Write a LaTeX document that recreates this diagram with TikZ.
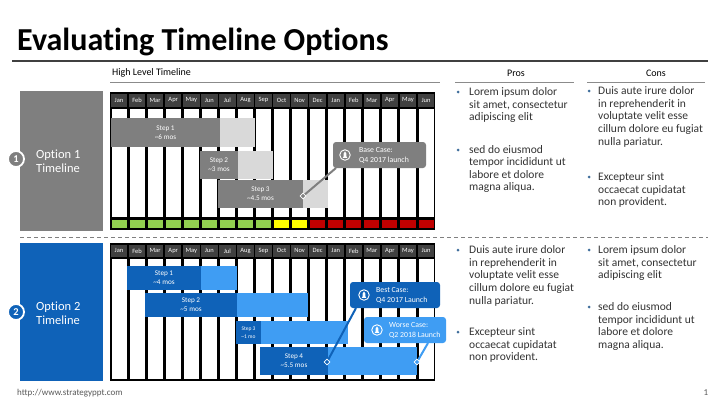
\documentclass[tikz,border=0pt]{standalone}
\usepackage{fontspec}
\setmainfont{Carlito}[Ligatures=NoCommon]
\usetikzlibrary{positioning, calc, shapes.geometric}
\definecolor{optgray}{HTML}{7F7F7F}
\definecolor{barlight}{HTML}{D9D9D9}
\definecolor{headgray}{HTML}{404040}
\definecolor{rulegray}{HTML}{595959}
\definecolor{optblue}{HTML}{0F62B8}
\definecolor{skyblue}{HTML}{3F9DF3}
\definecolor{statusgreen}{HTML}{92D050}
\definecolor{statusyellow}{HTML}{FFFF00}
\definecolor{statusred}{HTML}{C00000}
\definecolor{bodytext}{HTML}{333333}
\definecolor{dotblue}{HTML}{3F6E9C}

\begin{document}
\begin{tikzpicture}[x=1pt, y=-1pt,
  panel/.style={rectangle, anchor=north west, inner sep=0, outer sep=0},
  numdisc/.style={circle, draw=white, line width=1.8pt, minimum size=16pt, inner sep=0,
    text=white, font=\bfseries\fontsize{10.5}{10.5}\selectfont},
  opttext/.style={anchor=west, align=left, text=white, inner sep=0, font=\fontsize{12.5}{14}\selectfont},
  heading/.style={inner sep=0, text=black, font=\fontsize{10}{12}\selectfont},
  month/.style={inner sep=0, text=white, font=\fontsize{6.5}{7}\selectfont},
  stepbar/.style={rectangle, anchor=north west, inner sep=0, outer sep=0, align=center,
    text=white, font=\fontsize{7.2}{8.8}\selectfont},
  callout/.style={rectangle, rounded corners=3pt, anchor=north west, inner sep=0, outer sep=0},
  callouttext/.style={anchor=west, inner sep=0, align=left, text=white, font=\fontsize{7.8}{9.8}\selectfont},
  badge/.style={circle, draw=white, line width=0.9pt, minimum size=10.5pt, inner sep=0},
  tipmark/.style={diamond, draw=white, line width=0.8pt, minimum size=6pt, inner sep=0},
  pointer/.style={line width=2pt},
  item/.style={anchor=north west, inner sep=0, align=left, text=bodytext, font=\fontsize{11.5}{12.6}\selectfont},
  dot/.style={circle, fill=dotblue, minimum size=3pt, inner sep=0}
]
  \useasboundingbox (0,0) rectangle (720,405);
  \fill[white] (0,0) rectangle (720,405);

  % title
  \node[anchor=base west, inner sep=0, font=\bfseries\fontsize{32}{36}\selectfont] (title) at (17,50) {Evaluating Timeline Options};
  \draw[headgray, line width=1.4pt] (12,61) -- (708,61);

  \node[heading, anchor=west] (hlt) at (112,73) {High Level Timeline};
  \node[heading] (pros) at (516,73) {Pros};
  \node[heading] (cons) at (656,73) {Cons};
  \draw[rulegray!70, line width=0.6pt] (110,82) -- (440,82);
  \draw[rulegray!70, line width=0.6pt] (455,82) -- (574,82);
  \draw[rulegray!70, line width=0.6pt] (587,82) -- (705,82);

  % option panels
  \node[panel, fill=optgray, minimum width=83pt, minimum height=140pt] (opt1) at (20,91) {};
  \node[numdisc, fill=optgray] (num1) at (16,159) {1};
  \node[opttext] (opt1txt) at (36,161) {Option 1\\Timeline};

  \draw[gray, dashed, line width=0.6pt, dash pattern=on 4pt off 3pt] (20,237) -- (708,237);

  \node[panel, fill=optblue, minimum width=83pt, minimum height=138pt] (opt2) at (20,243) {};
  \node[numdisc, fill=optblue] (num2) at (16,312) {2};
  \node[opttext] (opt2txt) at (36,313) {Option 2\\Timeline};

  % gantt 1
  \fill[black] (110,92) rectangle (435,229.5);
  \foreach \m [count=\i from 0] in {Jan,Feb,Mar,Apr,May,Jun,Jul,Aug,Sep,Oct,Nov,Dec,Jan,Feb,Mar,Apr,May,Jun} {
    \pgfmathsetmacro{\xa}{110+\i*18.06}
    \fill[headgray] (\xa+0.8,93.5) rectangle (\xa+17.26,106.5);
    \fill[white] (\xa+1.5,108.5) rectangle (\xa+16.56,217);
    \node[month] (mon\i) at (\xa+9.03,100) {\m};
  }
  \foreach \c [count=\i from 0] in {statusgreen,statusgreen,statusgreen,statusgreen,statusgreen,statusgreen,statusgreen,statusgreen,statusgreen,statusyellow,statusyellow,statusred,statusred,statusred,statusred,statusred,statusred,statusred} {
    \pgfmathsetmacro{\xa}{110+\i*18.06}
    \fill[\c] (\xa+1.5,219.5) rectangle (\xa+16.56,228);
  }

  \fill[barlight] (220,118) rectangle (255,147);
  \node[stepbar, fill=optgray, minimum width=109pt, minimum height=29pt] (aone) at (111,118) {Step 1\\\textasciitilde6 mos};
  \fill[barlight] (238,151) rectangle (273,179);
  \node[stepbar, fill=optgray, minimum width=38pt, minimum height=28pt] (atwo) at (200,151) {Step 2\\\textasciitilde3 mos};
  \fill[barlight] (303,180) rectangle (328,208);
  \node[stepbar, fill=optgray, minimum width=85pt, minimum height=28pt] (athree) at (218,180) {Step 3\\\textasciitilde4.5 mos};

  \node[callout, fill=optgray, minimum width=93pt, minimum height=26pt] (base) at (333,142) {};
  \node[badge] (basebadge) at (345,155) {};
  \node[callouttext] (basetxt) at (359,155.5) {Base Case:\\Q4 2017 launch};
  \coordinate (basetip) at (303,196);
  \draw[pointer, optgray] ([xshift=3pt]base.south west) -- (basetip);
  \node[tipmark, fill=optgray] (basemark) at (basetip) {};

  % gantt 2
  \fill[black] (110,243) rectangle (435,381);
  \foreach \m [count=\i from 0] in {Jan,Feb,Mar,Apr,May,Jun,Jul,Aug,Sep,Oct,Nov,Dec,Jan,Feb,Mar,Apr,May,Jun} {
    \pgfmathsetmacro{\xa}{110+\i*18.06}
    \fill[headgray] (\xa+0.8,244.5) rectangle (\xa+17.26,257);
    \fill[white] (\xa+1.5,259) rectangle (\xa+16.56,379);
    \node[month] (mtw\i) at (\xa+9.03,250.8) {\m};
  }

  \fill[skyblue] (201,266) rectangle (237,290);
  \node[stepbar, fill=optblue, minimum width=74pt, minimum height=24pt] (bone) at (127,266) {Step 1\\\textasciitilde4 mos};
  \fill[skyblue] (237,293) rectangle (308,317);
  \node[stepbar, fill=optblue, minimum width=92pt, minimum height=24pt] (btwo) at (145,293) {Step 2\\\textasciitilde5 mos};
  \fill[skyblue] (261,321) rectangle (348,344);
  \node[stepbar, fill=optblue, minimum width=25pt, minimum height=23pt, font=\fontsize{5.5}{7.5}\selectfont] (bthree) at (236,321) {Step 3\\\textasciitilde1 mo};
  \fill[skyblue] (328,347) rectangle (417,375);
  \node[stepbar, fill=optblue, minimum width=68pt, minimum height=28pt] (bfour) at (260,347) {Step 4\\\textasciitilde5.5 mos};

  \node[callout, fill=optblue, minimum width=90pt, minimum height=26pt] (best) at (350,282) {};
  \node[badge] (bestbadge) at (364,295) {};
  \node[callouttext] (besttxt) at (376,295.5) {Best Case:\\Q4 2017 Launch};
  \coordinate (besttip) at (327,362);
  \draw[pointer, optblue] ([xshift=6pt]best.south west) -- (besttip);
  \node[tipmark, fill=optblue] (bestmark) at (besttip) {};

  \node[callout, fill=skyblue, minimum width=82pt, minimum height=26pt] (worse) at (364,317) {};
  \node[badge] (worsebadge) at (377,330) {};
  \node[callouttext] (worsetxt) at (389,330.5) {Worse Case:\\Q2 2018 Launch};
  \coordinate (worsetip) at (417,362);
  \draw[pointer, skyblue] ([xshift=-18pt]worse.south east) -- (worsetip);
  \node[tipmark, fill=skyblue] (worsemark) at (worsetip) {};

  \foreach \b in {basebadge,bestbadge,worsebadge}
    \fill[white, shift={(\b.center)}] (0,-3.6) -- (1.3,-1.6) -- (1.3,1.2) -- (2.2,2.8) -- (-2.2,2.8) -- (-1.3,1.2) -- (-1.3,-1.6) -- cycle;

  % pros / cons, option 1
  \node[dot] (pa) at (458,92) {};
  \node[item] (patxt) at (469,87.5) {Lorem ipsum dolor\\sit amet, consectetur\\adipiscing elit};
  \node[dot] (pb) at (458,150) {};
  \node[item] (pbtxt) at (469,145) {sed do eiusmod\\tempor incididunt ut\\labore et dolore\\magna aliqua.};
  \node[dot] (ca) at (589,91) {};
  \node[item] (catxt) at (598,86.5) {Duis aute irure dolor\\in reprehenderit in\\voluptate velit esse\\cillum dolore eu fugiat\\nulla pariatur.};
  \node[dot] (cb) at (589,177) {};
  \node[item] (cbtxt) at (598,172.5) {Excepteur sint\\occaecat cupidatat\\non provident.};

  % pros / cons, option 2
  \node[dot] (pc) at (458,250) {};
  \node[item] (pctxt) at (469,245.5) {Duis aute irure dolor\\in reprehenderit in\\voluptate velit esse\\cillum dolore eu fugiat\\nulla pariatur.};
  \node[dot] (pd) at (458,332) {};
  \node[item] (pdtxt) at (469,327.5) {Excepteur sint\\occaecat cupidatat\\non provident.};
  \node[dot] (cc) at (589,250) {};
  \node[item] (cctxt) at (598,245.5) {Lorem ipsum dolor\\sit amet, consectetur\\adipiscing elit};
  \node[dot] (cd) at (589,307) {};
  \node[item] (cdtxt) at (598,302.5) {sed do eiusmod\\tempor incididunt ut\\labore et dolore\\magna aliqua.};

  % footer
  \node[anchor=west, inner sep=0, text=rulegray, font=\fontsize{9}{10}\selectfont] (url) at (17,393) {http://www.strategyppt.com};
  \node[inner sep=0, text=rulegray, font=\fontsize{9}{10}\selectfont] (pageno) at (706,393) {1};
\end{tikzpicture}
\end{document}
